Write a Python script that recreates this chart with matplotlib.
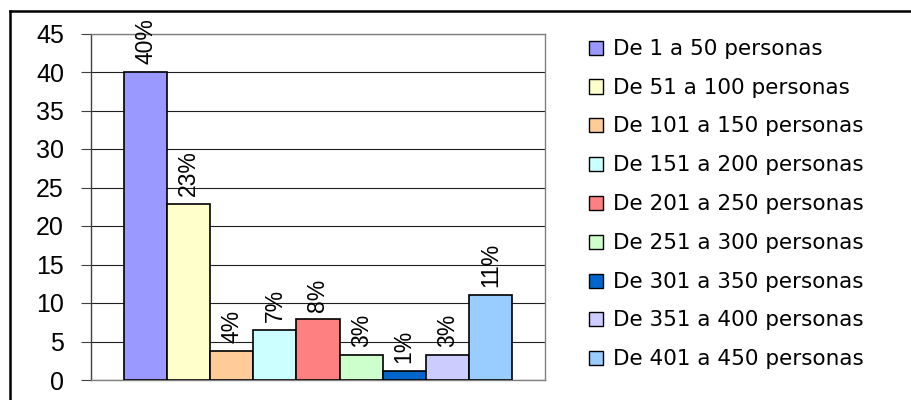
import matplotlib
matplotlib.use("Agg")
import matplotlib.pyplot as plt
from matplotlib.patches import Rectangle
from matplotlib.lines import Line2D

# Data: share of companies by staff size (percent)
categories = [
    "De 1 a 50 personas",
    "De 51 a 100 personas",
    "De 101 a 150 personas",
    "De 151 a 200 personas",
    "De 201 a 250 personas",
    "De 251 a 300 personas",
    "De 301 a 350 personas",
    "De 351 a 400 personas",
    "De 401 a 450 personas",
]
values = [40.0, 22.9, 3.8, 6.5, 7.9, 3.3, 1.2, 3.3, 11.1]
colors = ["#9999FF", "#FFFFCC", "#FFCC99", "#CCFFFF", "#FF8080",
          "#CCFFCC", "#0066CC", "#CCCCFF", "#99CCFF"]
yticks = list(range(0, 50, 5))

W, H = 912, 400
fig = plt.figure(figsize=(W / 100, H / 100), dpi=100)
fig.patch.set_facecolor("white")


def fx(px):
    return px / W


def fy(py):
    return 1 - py / H


main_font = "Liberation Sans"
legend_font = "DejaVu Sans"

ax = fig.add_axes([fx(91), fy(380), fx(545) - fx(91), fy(33.5) - fy(380)])
xpos = list(range(len(values)))
bars = ax.bar(xpos, values, width=1.0, color=colors, edgecolor="black",
              linewidth=1.2, zorder=3)

ax.set_xlim(-1.265, 9.265)
ax.set_ylim(0, 45)
ax.set_yticks(yticks)
ax.set_yticklabels([str(t) for t in yticks], fontfamily=main_font, fontsize=18)
ax.set_xticks([])

ax.yaxis.grid(True, color="#202020", linewidth=0.8, zorder=0)
ax.set_axisbelow(True)

for side in ("top", "right", "bottom"):
    ax.spines[side].set_color("#808080")
    ax.spines[side].set_linewidth(1.0)
ax.spines["left"].set_color("#404040")
ax.spines["left"].set_linewidth(1.0)
ax.tick_params(axis="y", direction="out", length=7.5, width=0.8,
               color="#404040", pad=12)

# Rotated percentage labels above each bar
for b, v in zip(bars, values):
    ax.annotate(f"{int(v + 0.5)}%",
                xy=(b.get_x() + b.get_width() / 2, v),
                xytext=(0, 5.5), textcoords="offset points",
                rotation=90, ha="center", va="bottom",
                fontfamily=main_font, fontsize=16.5)

# Legend drawn as swatches and labels on the figure
row0, pitch = 47.7, 38.8
for i, (lab, col) in enumerate(zip(categories, colors)):
    yc = row0 + i * pitch
    fig.add_artist(Rectangle((fx(589), fy(yc + 7)), fx(14), 14 / H,
                             facecolor=col, edgecolor="black", linewidth=1.0,
                             transform=fig.transFigure))
    fig.text(fx(613), fy(yc + 7), lab, fontfamily=legend_font, fontsize=15.5,
             ha="left", va="baseline")

# Chart frame
fig.add_artist(Line2D([fx(10), fx(10)], [0, fy(11)], color="black",
                      linewidth=1.8, transform=fig.transFigure))
fig.add_artist(Line2D([fx(10), 1], [fy(11), fy(11)], color="black",
                      linewidth=1.8, transform=fig.transFigure))

fig.savefig("out.png", dpi=100)
